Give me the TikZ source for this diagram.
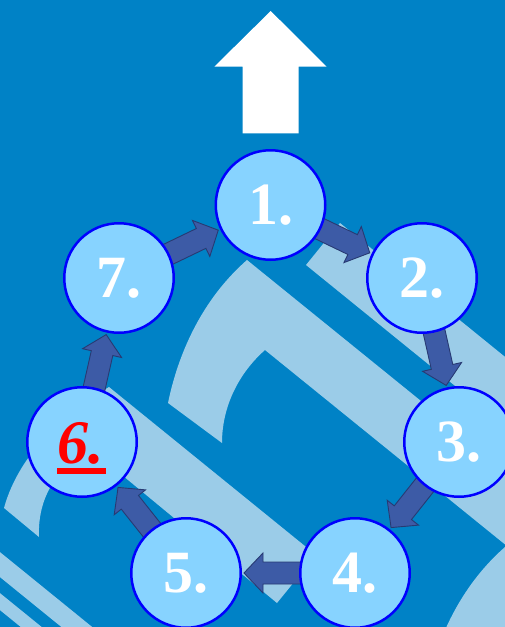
\documentclass[tikz,border=0pt]{standalone}
\usepackage{fontspec}
\setmainfont{Liberation Serif}
\usetikzlibrary{calc}
\definecolor{bgblue}{RGB}{0,130,198}
\definecolor{stripe}{RGB}{155,204,232}
\definecolor{circfill}{RGB}{135,211,255}
\definecolor{circline}{RGB}{0,0,255}
\definecolor{arrfill}{RGB}{61,91,166}
\definecolor{arrline}{RGB}{40,58,115}
\tikzset{
  circ/.style={circle, fill=circfill, draw=circline, line width=2.5pt, minimum size=109.5pt, inner sep=0pt},
  numtxt/.style={text=white, inner sep=0pt, font=\fontsize{60}{60}\selectfont\bfseries},
  redtxt/.style={text=red, inner sep=0pt, font=\fontsize{62}{62}\selectfont\bfseries\itshape},
  blockarr/.style={fill=arrfill, draw=arrline, line width=0.9pt, line join=miter},
  deco/.style={fill=stripe},
  bigarrow/.style={fill=white}
}
\newcommand{\blockarrow}[2]{%
  \coordinate (#1#2s) at (#1);
  \coordinate (#1#2t) at ($(#2)!58pt!(#1)$);
  \coordinate (#1#2h) at ($(#1#2t)!19pt!(#1)$);
  \draw[blockarr] ($(#1#2s)!11pt!90:(#1#2t)$) -- ($(#1#2h)!11pt!90:(#1#2t)$)
    -- ($(#1#2h)!20pt!90:(#1#2t)$) -- (#1#2t) -- ($(#1#2h)!20pt!-90:(#1#2t)$)
    -- ($(#1#2h)!11pt!-90:(#1#2t)$) -- ($(#1#2s)!11pt!-90:(#1#2t)$) -- cycle;
}
\begin{document}
\begin{tikzpicture}[x=1pt,y=-1pt]
\useasboundingbox (0,0) rectangle (505,627);
\fill[bgblue] (0,0) rectangle (505,627);
% background decoration
\begin{scope}
\clip (0,0) rectangle (505,627);
\foreach \sh in {(0,0),(258,287)}{
  \fill[deco, shift={\sh}] (168,403) .. controls (180,345) and (207,295) .. (247,260)
     -- (558,512) -- (560,589) -- (265,350) .. controls (240,372) and (222,405) .. (222,443) -- cycle;
}
\fill[deco] (340,223) -- (573,412) -- (539,454) -- (306,265) -- cycle;
\fill[deco] (4,508) .. controls (20,450) and (70,410) .. (109,387) -- (316,555) -- (277,603)
   -- (82,442) -- (55,480) .. controls (44,495) and (38,515) .. (39,537) -- cycle;
\fill[deco] (-60,503.4) -- (155,678) -- (155,703) -- (-60,528.4) -- cycle;
\fill[deco] (-60,544.4) -- (155,719) -- (155,736) -- (-60,561.4) -- cycle;
\end{scope}
% big white arrow
\coordinate (up) at (270.7,11);
\fill[bigarrow] (up) -- (326.7,66.7) -- (298.7,66.7) -- (298.7,133.3) -- (242.7,133.3)
   -- (242.7,66.7) -- (214.3,66.7) -- cycle;
% circle positions
\coordinate (c1) at (270.5,205);
\coordinate (c2) at (422,278);
\coordinate (c3) at (459,442);
\coordinate (c4) at (355,573);
\coordinate (c5) at (186,573);
\coordinate (c6) at (82,442);
\coordinate (c7) at (119,278);
% block arrows
\blockarrow{c1}{c2}
\blockarrow{c2}{c3}
\blockarrow{c3}{c4}
\blockarrow{c4}{c5}
\blockarrow{c5}{c6}
\blockarrow{c6}{c7}
\blockarrow{c7}{c1}
% circles
\foreach \i in {1,...,7}{ \node[circ] (n\i) at (c\i) {}; }
% labels
\foreach \i/\x/\y in {1/270.5/205,2/422/278,3/459/442,4/355/573,5/186/573,7/119/278}{
  \node[numtxt, anchor=base] (t\i) at (\x,\y+19) {\i.};
}
\node[redtxt, anchor=base] (t6) at (81,463) {6.};
\fill[red] ([xshift=-1pt,yshift=-5pt]t6.base west) rectangle ([xshift=2pt,yshift=-11pt]t6.base east);
\end{tikzpicture}
\end{document}
